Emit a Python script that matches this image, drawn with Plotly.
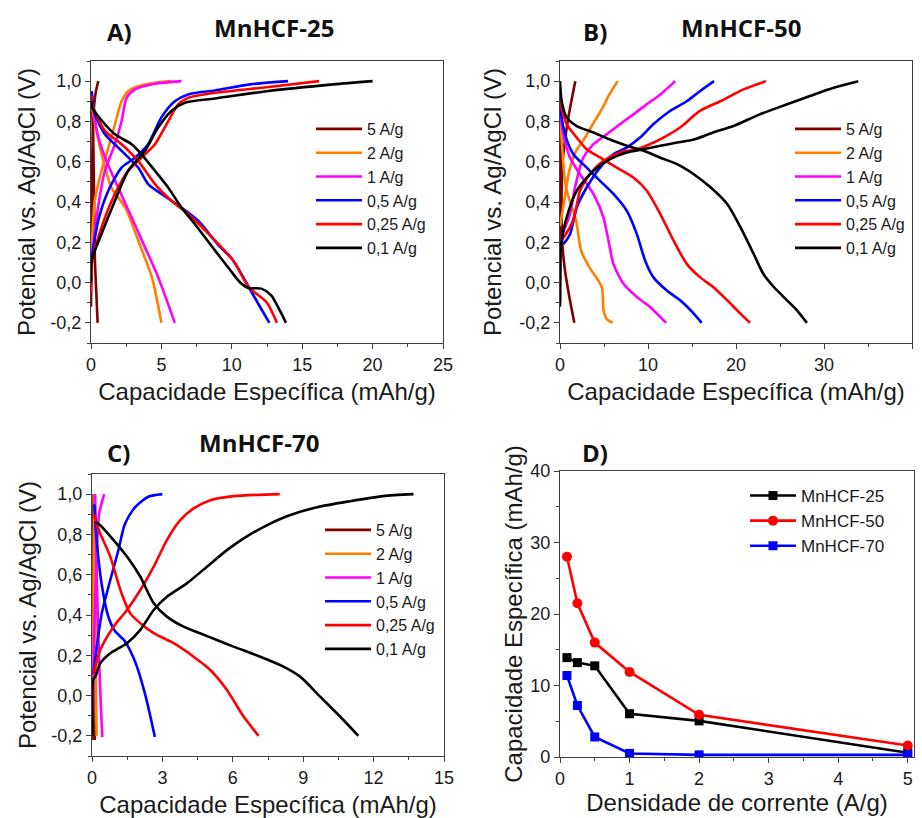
import plotly.graph_objects as go

# ---------------- DATA ----------------
rate_labels = ["5 A/g", "2 A/g", "1 A/g", "0,5 A/g", "0,25 A/g", "0,1 A/g"]
rate_colors = ["#7f0000", "#ff8000", "#ff00ff", "#0000ff", "#ff0000", "#000000"]

# Panel A  (MnHCF-25): capacity (mAh/g) and potential (V), charge / discharge
a5_chg_cap = [0.0, 0.05, 0.09, 0.15, 0.23, 0.35, 0.52]
a5_chg_v = [-0.12, 0.2, 0.6, 0.8, 0.886, 0.95, 1.0]
a5_dis_cap = [0.0, 0.14, 0.22, 0.28, 0.38, 0.47]
a5_dis_v = [0.95, 0.77, 0.4, 0.11, -0.055, -0.2]
a2_chg_cap = [0.0, 0.05, 0.28, 0.75, 1.23, 1.7, 2.17, 2.64, 3.35, 4.54, 5.7]
a2_chg_v = [0.05, 0.176, 0.41, 0.555, 0.67, 0.786, 0.90, 0.95, 0.975, 0.992, 1.0]
a2_dis_cap = [0.05, 0.09, 0.4, 0.75, 1.46, 2.45, 3.4, 4.35, 5.0]
a2_dis_v = [0.95, 0.87, 0.75, 0.64, 0.47, 0.37, 0.2, 0.02, -0.2]
a1_chg_cap = [0.0, 0.09, 0.4, 0.99, 1.7, 2.17, 2.53, 3.12, 4.54, 6.43]
a1_chg_v = [0.05, 0.126, 0.324, 0.555, 0.687, 0.80, 0.917, 0.959, 0.987, 1.0]
a1_dis_cap = [0.05, 0.09, 0.52, 1.1, 1.94, 2.88, 3.83, 4.77, 5.95]
a1_dis_v = [0.93, 0.9, 0.72, 0.604, 0.47, 0.324, 0.176, 0.027, -0.2]
a05_chg_cap = [0.0, 0.09, 0.52, 1.23, 2.17, 3.12, 4.06, 5.0, 5.95, 6.9, 8.8, 11.3, 14.0]
a05_chg_v = [0.1, 0.143, 0.31, 0.456, 0.571, 0.62, 0.687, 0.82, 0.90, 0.934, 0.954, 0.984, 1.0]
a05_dis_cap = [0.05, 0.28, 0.99, 2.17, 3.35, 4.06, 5.0, 6.42, 7.6, 9.0, 10.1, 11.2, 12.0, 12.67]
a05_dis_v = [0.95, 0.835, 0.736, 0.654, 0.571, 0.489, 0.44, 0.373, 0.308, 0.19, 0.11, -0.022, -0.12, -0.2]
a025_chg_cap = [0.0, 0.09, 0.75, 1.7, 2.64, 3.59, 4.54, 5.48, 6.19, 6.9, 8.8, 12.48, 16.2]
a025_chg_v = [-0.05, 0.11, 0.275, 0.44, 0.555, 0.62, 0.687, 0.80, 0.885, 0.917, 0.942, 0.97, 1.0]
a025_dis_cap = [0.03, 0.09, 0.99, 2.17, 3.35, 4.54, 5.71, 6.9, 8.8, 10.1, 11.2, 12.5, 13.2]
a025_dis_v = [0.93, 0.885, 0.753, 0.687, 0.604, 0.489, 0.406, 0.34, 0.209, 0.11, -0.022, -0.1, -0.2]
a01_chg_cap = [0.0, 0.05, 0.75, 1.7, 2.64, 3.83, 4.77, 5.71, 6.66, 8.8, 12.48, 17.2, 20.0]
a01_chg_v = [0.0, 0.11, 0.242, 0.406, 0.555, 0.654, 0.77, 0.852, 0.893, 0.914, 0.95, 0.984, 1.0]
a01_dis_cap = [0.05, 0.09, 0.99, 1.7, 2.88, 3.59, 4.54, 5.48, 6.42, 7.37, 8.8, 9.8, 10.6, 11.18, 12.1, 12.8, 13.4, 13.85]
a01_dis_v = [0.9, 0.868, 0.786, 0.736, 0.687, 0.637, 0.555, 0.472, 0.373, 0.291, 0.16, 0.07, 0.0, -0.027, -0.03, -0.063, -0.137, -0.2]

# Panel B  (MnHCF-50)
b5_chg_cap = [0.0, 0.1, 0.3, 0.7, 1.2, 1.74]
b5_chg_v = [-0.1, 0.3, 0.6, 0.75, 0.88, 1.0]
b5_dis_cap = [0.0, 0.1, 0.25, 0.6, 1.1, 1.63]
b5_dis_v = [0.9, 0.6, 0.2, 0.05, -0.08, -0.2]
b2_chg_cap = [0.0, 0.3, 1.06, 1.82, 2.58, 3.72, 4.85, 5.61, 6.56]
b2_chg_v = [0.28, 0.357, 0.555, 0.654, 0.70, 0.786, 0.868, 0.934, 1.0]
b2_dis_cap = [0.0, 0.68, 1.82, 2.39, 3.33, 4.5, 4.8, 4.95, 5.3, 6.0]
b2_dis_v = [0.85, 0.472, 0.31, 0.16, 0.077, 0.0, -0.03, -0.137, -0.18, -0.2]
b1_chg_cap = [0.1, 0.3, 1.14, 1.7, 2.65, 3.8, 5.3, 6.82, 8.34, 9.86, 11.4, 13.1]
b1_chg_v = [0.2, 0.24, 0.34, 0.472, 0.62, 0.687, 0.736, 0.786, 0.835, 0.885, 0.934, 1.0]
b1_dis_cap = [0.0, 0.38, 1.14, 2.27, 3.8, 4.93, 5.5, 6.07, 7.2, 8.72, 10.2, 12.06]
b1_dis_v = [0.85, 0.736, 0.62, 0.538, 0.44, 0.324, 0.209, 0.093, -0.005, -0.071, -0.12, -0.2]
b05_chg_cap = [0.38, 1.14, 1.9, 3.03, 4.55, 6.07, 7.58, 9.1, 10.6, 12.5, 14.4, 15.9, 17.5]
b05_chg_v = [0.19, 0.24, 0.373, 0.472, 0.571, 0.637, 0.67, 0.72, 0.786, 0.852, 0.90, 0.95, 1.0]
b05_dis_cap = [0.0, 0.57, 1.52, 3.03, 4.55, 6.07, 7.58, 8.72, 9.67, 10.6, 12.1, 13.65, 15.2, 16.1]
b05_dis_v = [0.87, 0.736, 0.637, 0.571, 0.505, 0.44, 0.357, 0.242, 0.11, 0.027, -0.038, -0.088, -0.154, -0.2]
b025_chg_cap = [0.19, 1.14, 1.7, 2.27, 3.4, 4.93, 6.82, 8.72, 10.2, 11.75, 13.65, 15.9, 18.2, 20.85, 23.4]
b025_chg_v = [0.209, 0.275, 0.34, 0.456, 0.538, 0.604, 0.646, 0.662, 0.687, 0.72, 0.77, 0.852, 0.90, 0.959, 1.0]
b025_dis_cap = [0.0, 0.76, 1.9, 3.03, 4.55, 6.45, 8.34, 9.86, 11.4, 12.9, 14.4, 15.9, 17.4, 19.0, 20.5, 21.6]
b025_dis_v = [0.90, 0.786, 0.72, 0.662, 0.621, 0.571, 0.522, 0.456, 0.34, 0.209, 0.093, 0.027, -0.022, -0.088, -0.154, -0.2]
b01_chg_cap = [0.0, 0.05, 0.19, 0.76, 1.9, 3.8, 5.69, 7.58, 9.48, 11.4, 13.3, 15.2, 17.4, 19.7, 22.7, 25.8, 28.4, 31.1, 33.9]
b01_chg_v = [-0.12, 0.15, 0.209, 0.324, 0.456, 0.555, 0.613, 0.646, 0.662, 0.679, 0.695, 0.71, 0.745, 0.777, 0.835, 0.885, 0.926, 0.967, 1.0]
b01_dis_cap = [0.0, 0.19, 0.76, 1.9, 3.8, 5.69, 7.58, 9.48, 11.4, 13.3, 15.2, 17.1, 19.0, 20.5, 22.0, 23.1, 24.3, 25.8, 26.9, 28.06]
b01_dis_v = [1.0, 0.90, 0.82, 0.777, 0.745, 0.71, 0.679, 0.654, 0.62, 0.588, 0.538, 0.473, 0.39, 0.275, 0.143, 0.044, -0.022, -0.088, -0.137, -0.2]

# Panel C  (MnHCF-70)
c5_chg_cap = [0.02, 0.03, 0.05, 0.08]
c5_chg_v = [-0.22, 0.3, 0.8, 1.0]
c5_dis_cap = [0.08, 0.09, 0.1, 0.12]
c5_dis_v = [1.0, 0.6, 0.0, -0.22]
c2_chg_cap = [0.04, 0.06, 0.08, 0.12]
c2_chg_v = [-0.2, 0.3, 0.8, 1.0]
c2_dis_cap = [0.12, 0.15, 0.17, 0.2]
c2_dis_v = [1.0, 0.6, 0.0, -0.2]
c1_chg_cap = [0.04, 0.06, 0.13, 0.2, 0.3, 0.52]
c1_chg_v = [-0.1, 0.14, 0.44, 0.686, 0.90, 1.0]
c1_dis_cap = [0.13, 0.2, 0.3, 0.38, 0.44]
c1_dis_v = [1.0, 0.60, 0.19, -0.06, -0.206]
c05_chg_cap = [0.06, 0.2, 0.41, 0.84, 1.12, 1.4, 1.83, 2.4, 3.0]
c05_chg_v = [0.107, 0.24, 0.405, 0.60, 0.72, 0.85, 0.934, 0.987, 1.0]
c05_dis_cap = [0.1, 0.2, 0.41, 0.7, 0.98, 1.4, 1.83, 2.26, 2.68]
c05_dis_v = [0.95, 0.77, 0.554, 0.39, 0.32, 0.27, 0.17, 0.008, -0.206]
c025_chg_cap = [0.07, 0.35, 0.92, 1.49, 2.06, 2.63, 3.19, 3.76, 4.33, 5.04, 6.03, 8.0]
c025_chg_v = [0.11, 0.226, 0.342, 0.425, 0.524, 0.64, 0.772, 0.871, 0.929, 0.97, 0.99, 1.0]
c025_dis_cap = [0.1, 0.14, 0.35, 0.78, 1.21, 1.63, 2.06, 2.63, 3.48, 4.33, 5.04, 5.75, 6.46, 7.1]
c025_dis_v = [0.9, 0.87, 0.805, 0.69, 0.524, 0.408, 0.359, 0.31, 0.26, 0.193, 0.127, 0.028, -0.104, -0.2]
c01_chg_cap = [0.04, 0.05, 0.14, 0.35, 0.78, 1.49, 2.06, 2.63, 3.19, 4.04, 4.9, 5.75, 6.6, 7.45, 8.3, 9.58, 11.0, 12.4, 13.7]
c01_chg_v = [-0.2, 0.08, 0.094, 0.16, 0.21, 0.26, 0.326, 0.425, 0.49, 0.557, 0.64, 0.722, 0.79, 0.845, 0.89, 0.935, 0.965, 0.99, 1.0]
c01_dis_cap = [0.14, 0.35, 0.92, 1.49, 2.06, 2.63, 3.19, 3.9, 4.6, 5.32, 6.03, 7.17, 8.16, 8.87, 9.72, 10.57, 11.35]
c01_dis_v = [0.863, 0.846, 0.772, 0.69, 0.59, 0.458, 0.392, 0.342, 0.309, 0.276, 0.243, 0.193, 0.144, 0.094, -0.005, -0.104, -0.2]

# Panel D  rate capability
d_current = [0.1, 0.25, 0.5, 1, 2, 5]
d_mnhcf25 = [13.9, 13.2, 12.75, 6.05, 5.05, 0.6]
d_mnhcf50 = [28.0, 21.5, 16.0, 11.9, 5.9, 1.6]
d_mnhcf70 = [11.4, 7.2, 2.8, 0.5, 0.3, 0.3]
d_names = ["MnHCF-25", "MnHCF-50", "MnHCF-70"]
d_colors = ["#000000", "#ff0000", "#0000ff"]
d_symbols = ["square", "circle", "square"]

v_tickvals = [-0.2, 0.0, 0.2, 0.4, 0.6, 0.8, 1.0]
v_ticktext = ["-0,2", "0,0", "0,2", "0,4", "0,6", "0,8", "1,0"]

panel_curves = {
    "A": [(a5_chg_cap, a5_chg_v, a5_dis_cap, a5_dis_v), (a2_chg_cap, a2_chg_v, a2_dis_cap, a2_dis_v),
          (a1_chg_cap, a1_chg_v, a1_dis_cap, a1_dis_v), (a05_chg_cap, a05_chg_v, a05_dis_cap, a05_dis_v),
          (a025_chg_cap, a025_chg_v, a025_dis_cap, a025_dis_v), (a01_chg_cap, a01_chg_v, a01_dis_cap, a01_dis_v)],
    "B": [(b5_chg_cap, b5_chg_v, b5_dis_cap, b5_dis_v), (b2_chg_cap, b2_chg_v, b2_dis_cap, b2_dis_v),
          (b1_chg_cap, b1_chg_v, b1_dis_cap, b1_dis_v), (b05_chg_cap, b05_chg_v, b05_dis_cap, b05_dis_v),
          (b025_chg_cap, b025_chg_v, b025_dis_cap, b025_dis_v), (b01_chg_cap, b01_chg_v, b01_dis_cap, b01_dis_v)],
    "C": [(c5_chg_cap, c5_chg_v, c5_dis_cap, c5_dis_v), (c2_chg_cap, c2_chg_v, c2_dis_cap, c2_dis_v),
          (c1_chg_cap, c1_chg_v, c1_dis_cap, c1_dis_v), (c05_chg_cap, c05_chg_v, c05_dis_cap, c05_dis_v),
          (c025_chg_cap, c025_chg_v, c025_dis_cap, c025_dis_v), (c01_chg_cap, c01_chg_v, c01_dis_cap, c01_dis_v)],
}

# ---------------- FIGURE ----------------
W, H = 922, 818
fig = go.Figure()

axis_ids = {"A": ("x", "y", "legend"), "B": ("x2", "y2", "legend2"), "C": ("x3", "y3", "legend3")}
for panel, curves in panel_curves.items():
    xa, ya, lg = axis_ids[panel]
    for (ccap, cv, dcap, dv), name, color in zip(curves, rate_labels, rate_colors):
        fig.add_trace(go.Scatter(
            x=list(ccap) + [None] + list(dcap),
            y=list(cv) + [None] + list(dv),
            mode="lines", name=name, xaxis=xa, yaxis=ya, legend=lg,
            line=dict(color=color, width=2.6, shape="spline", smoothing=0.7),
            connectgaps=False,
        ))

for vals, name, color, sym in zip([d_mnhcf25, d_mnhcf50, d_mnhcf70], d_names, d_colors, d_symbols):
    fig.add_trace(go.Scatter(
        x=d_current, y=vals, mode="lines+markers", name=name,
        xaxis="x4", yaxis="y4", legend="legend4",
        line=dict(color=color, width=2.6),
        marker=dict(symbol=sym, size=9 if sym == "square" else 10, color=color),
    ))

def px_dom(a, b, total, flip=False):
    if flip:
        return [1 - b / total, 1 - a / total]
    return [a / total, b / total]

FONT = "Liberation Sans, Arial, sans-serif"
tick_font = dict(family=FONT, size=18, color="#1a1a1a")
title_font = dict(family=FONT, size=24, color="#1a1a1a")
frame = dict(showline=True, linecolor="#404040", linewidth=1.3, mirror=True,
             showgrid=False, zeroline=False, ticks="outside", ticklen=5, tickwidth=1.2,
             tickcolor="#404040", tickfont=tick_font, automargin=False)

def xaxis(dom, rng, dtick, minor_dtick, title, anchor, standoff):
    return dict(domain=dom, range=rng, tickmode="linear", tick0=0, dtick=dtick,
                minor=dict(ticks="outside", ticklen=3, dtick=minor_dtick, tick0=0, tickcolor="#404040"),
                title=dict(text=title, font=title_font, standoff=standoff), anchor=anchor, **frame)

def vaxis(dom, anchor, standoff):
    return dict(domain=dom, range=[-0.3, 1.1], tickmode="array", tickvals=v_tickvals, ticktext=v_ticktext,
                minor=dict(ticks="outside", ticklen=3, dtick=0.1, tick0=0, tickcolor="#404040"),
                title=dict(text="Potencial vs. Ag/AgCl (V)", font=title_font, standoff=standoff),
                anchor=anchor, **frame)

cap_title = "Capacidade Específica (mAh/g)"
fig.update_layout(
    width=W, height=H, margin=dict(l=0, r=0, t=0, b=0),
    paper_bgcolor="white", plot_bgcolor="white",
    xaxis=xaxis(px_dom(91, 443, W), [0, 25], 5, 2.5, cap_title, "y", 9),
    yaxis=vaxis(px_dom(61, 343, H, True), "x", 7),
    xaxis2=xaxis(px_dom(560, 912, W), [0, 40], 10, 5, cap_title, "y2", 9),
    yaxis2=vaxis(px_dom(61, 343, H, True), "x2", 10),
    xaxis3=xaxis(px_dom(92, 444, W), [0, 15], 3, 1.5, cap_title, "y3", 10),
    yaxis3=vaxis(px_dom(474, 756, H, True), "x3", 7),
    xaxis4=xaxis(px_dom(560, 914, W), [0, 5.09], 1, 0.5, "Densidade de corrente (A/g)", "y4", 2),
    yaxis4=dict(domain=px_dom(471, 757, H, True), range=[0, 40], tickmode="linear", tick0=0, dtick=10,
                minor=dict(ticks="outside", ticklen=3, dtick=5, tick0=0, tickcolor="#404040"),
                title=dict(text=cap_title, font=title_font, standoff=0), anchor="x4", **frame),
    showlegend=True,
)

leg_common = dict(xanchor="left", yanchor="top", bgcolor="rgba(0,0,0,0)", borderwidth=0,
                  tracegroupgap=0, itemwidth=46)
leg_font = dict(family=FONT, size=16, color="#1a1a1a")
fig.update_layout(
    legend=dict(x=311 / W, y=1 - 112 / H, font=leg_font, **leg_common),
    legend2=dict(x=790 / W, y=1 - 112 / H, font=leg_font, **leg_common),
    legend3=dict(x=320 / W, y=1 - 513 / H, font=leg_font, **leg_common),
    legend4=dict(x=745 / W, y=1 - 478 / H, font=dict(family=FONT, size=17, color="#1a1a1a"),
                 **leg_common),
)

bold = dict(family="Open Sans, sans-serif", size=24, color="#111111", weight="bold")
for text, xp, yp in [("A)", 119, 32), ("MnHCF-25", 274, 27), ("B)", 595, 32), ("MnHCF-50", 741, 27),
                     ("C)", 118, 452), ("MnHCF-70", 259, 442), ("D)", 595, 452)]:
    fig.add_annotation(text=text, x=xp / W, y=1 - yp / H, xref="paper", yref="paper",
                       xanchor="center", yanchor="middle", showarrow=False, font=bold)

fig.write_html("out.html")
